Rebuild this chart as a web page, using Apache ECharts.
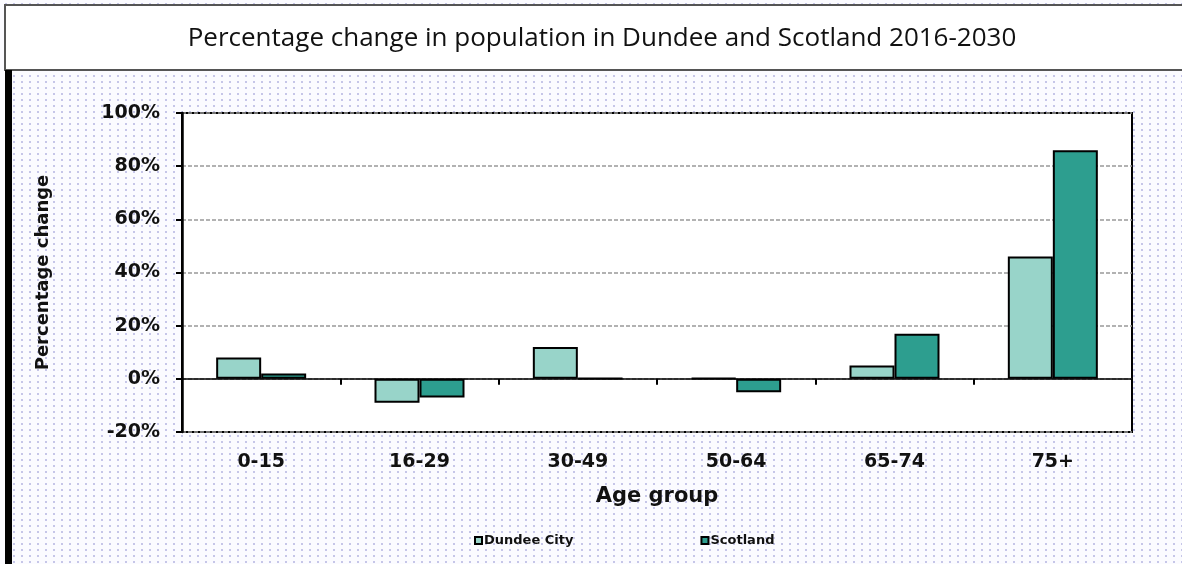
<!DOCTYPE html>
<html>
<head>
<meta charset="utf-8">
<script src="https://cdn.jsdelivr.net/npm/echarts@6/dist/echarts.min.js"></script>
<style>
  html, body { margin: 0; padding: 0; }
  body {
    width: 1182px; height: 564px; overflow: hidden;
    background-color: #fbfbff;
    background-image: radial-gradient(circle, #c6c6e8 1.1px, transparent 1.5px);
    background-size: 8px 6px;
    background-position: 2px 1px;
  }
  #chart { width: 1182px; height: 564px; }
</style>
</head>
<body>
<div id="chart"></div>
<script>
// Age bands along the x axis
const ageGroups = ['0-15', '16-29', '30-49', '50-64', '65-74', '75+'];
// Projected % change 2016-2030
const dundeeCity = [8, -9, 12, 0.3, 5, 46];
const scotland = [2, -7, 0.2, -5, 17, 86];
const seriesNames = ['Dundee City', 'Scotland'];
const titleText = 'Percentage change in population in Dundee and Scotland 2016-2030';

const chart = echarts.init(document.getElementById('chart'), null, { renderer: 'canvas' });

const boldFont = '"DejaVu Sans", "Liberation Sans", Arial, sans-serif';

chart.setOption({
  animation: false,
  title: {
    text: titleText,
    left: 597,
    top: 21,
    textAlign: 'center',
    textStyle: { fontFamily: '"Open Sans", sans-serif', fontWeight: 'normal', fontSize: 26, color: '#111' }
  },
  graphic: [
    { type: 'rect', z: -10, shape: { x: 5, y: 5, width: 1200, height: 65 },
      style: { fill: '#fff', stroke: '#555', lineWidth: 2 } },
    { type: 'rect', z: -10, shape: { x: 5, y: 70, width: 7, height: 500 },
      style: { fill: '#000' } }
  ],
  legend: {
    data: seriesNames,
    left: 469,
    top: 529,
    icon: 'rect',
    itemWidth: 7,
    itemHeight: 7,
    itemGap: 127,
    textStyle: { fontFamily: boldFont, fontWeight: 'bold', fontSize: 13, color: '#111', padding: [0, 0, 0, -3] }
  },
  grid: {
    left: 182, right: 50, top: 113, bottom: 132,
    show: true, backgroundColor: '#fff', borderColor: '#000', borderWidth: 2
  },
  xAxis: [
    {
      type: 'category',
      data: ageGroups,
      axisLine: { onZero: true, lineStyle: { color: '#000', width: 1.5 } },
      axisTick: { show: true, length: 6, lineStyle: { color: '#000', width: 2 } },
      axisLabel: { show: false },
      splitLine: { show: false }
    },
    {
      type: 'category',
      data: ageGroups,
      position: 'bottom',
      axisLine: { show: false, onZero: false },
      axisTick: { show: false },
      axisLabel: { margin: 21, fontFamily: boldFont, fontWeight: 'bold', fontSize: 19, color: '#111' },
      name: 'Age group',
      nameLocation: 'middle',
      nameGap: 54,
      nameTextStyle: { fontFamily: boldFont, fontWeight: 'bold', fontSize: 21, color: '#111' }
    }
  ],
  yAxis: {
    type: 'value',
    min: -20, max: 100, interval: 20,
    axisLine: { show: true, lineStyle: { color: '#000', width: 2.5 } },
    axisTick: { show: true, length: 6, lineStyle: { color: '#000', width: 2 } },
    axisLabel: { formatter: '{value}%', margin: 22, fontFamily: boldFont, fontWeight: 'bold', fontSize: 19, color: '#111' },
    splitLine: { show: true, lineStyle: { color: '#999', type: [4, 2], width: 1.5 } },
    name: 'Percentage change',
    nameLocation: 'middle',
    nameGap: 130,
    nameTextStyle: { fontFamily: boldFont, fontWeight: 'bold', fontSize: 18, color: '#111' }
  },
  series: [
    {
      name: seriesNames[0], type: 'bar', data: dundeeCity, xAxisIndex: 0,
      barWidth: 45, barGap: '0%',
      itemStyle: { color: '#98d4c9', borderColor: '#000', borderWidth: 2 }
    },
    {
      name: seriesNames[1], type: 'bar', data: scotland, xAxisIndex: 0,
      barWidth: 45, barGap: '0%',
      itemStyle: { color: '#2d9e8f', borderColor: '#000', borderWidth: 2 }
    }
  ]
});
</script>
</body>
</html>
